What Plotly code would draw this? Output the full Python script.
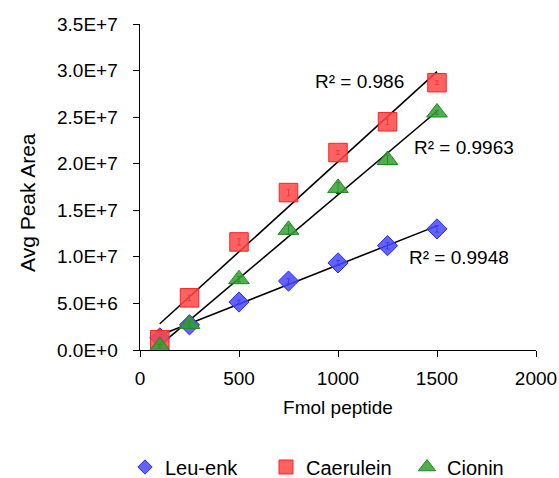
import numpy as np
import plotly.graph_objects as go

# Amount of peptide loaded (fmol)
fmol = [100, 250, 500, 750, 1000, 1250, 1500]

# Average peak areas per peptide
leu_enk = [1.3e6, 2.7e6, 5.15e6, 7.4e6, 9.35e6, 11.2e6, 13.0e6]
caerulein = [1.1e6, 5.6e6, 11.6e6, 16.9e6, 21.2e6, 24.5e6, 28.7e6]
cionin = [0.4e6, 2.8e6, 7.6e6, 12.9e6, 17.4e6, 20.4e6, 25.5e6]

# Replicate spread (standard deviation)
leu_enk_sd = [1.5e5, 2.0e5, 2.0e5, 2.5e5, 2.5e5, 3.5e5, 3.5e5]
caerulein_sd = [2.0e5, 3.0e5, 3.5e5, 3.5e5, 2.0e5, 3.0e5, 2.0e5]
cionin_sd = [2.0e5, 3.0e5, 3.0e5, 5.0e5, 6.0e5, 5.0e5, 2.0e5]

# Coefficients of determination for each linear trend
r2_values = {"Leu-enk": "0.9948", "Caerulein": "0.986", "Cionin": "0.9963"}

y_tick_vals = [0, 5e6, 10e6, 15e6, 20e6, 25e6, 30e6, 35e6]
y_tick_text = ["0.0E+0", "5.0E+6", "1.0E+7", "1.5E+7", "2.0E+7", "2.5E+7", "3.0E+7", "3.5E+7"]
x_tick_vals = [0, 500, 1000, 1500, 2000]

FONT = "Liberation Sans, Arial, sans-serif"

series = [
    # name, values, sd, symbol, fill, edge, error colour, size, legend size
    ("Leu-enk", leu_enk, leu_enk_sd, "diamond", "rgba(70,70,255,0.85)", "#2a2aff", "#00006a", 15.5, 11),
    ("Caerulein", caerulein, caerulein_sd, "square", "rgba(255,70,70,0.85)", "#ff2020", "#7a0000", 18.5, 14),
    ("Cionin", cionin, cionin_sd, "triangle-up", "rgba(50,160,50,0.85)", "#1e8a1e", "#003a00", 18, 15),
]

fig = go.Figure()

# Linear trendlines fitted to each series, spanning the measured range
x_arr = np.array(fmol, dtype=float)
for name, vals, *_ in series:
    slope, intercept = np.polyfit(x_arr, np.array(vals), 1)
    xs = np.array([x_arr.min(), x_arr.max()])
    fig.add_trace(go.Scatter(
        x=xs, y=slope * xs + intercept, mode="lines",
        line=dict(color="black", width=1.6), showlegend=False, hoverinfo="skip",
    ))

for name, vals, sd, sym, fill, edge, errc, size, lsize in series:
    fig.add_trace(go.Scatter(
        x=fmol, y=vals, mode="markers", name=name, showlegend=False,
        marker=dict(symbol=sym, size=size, color=fill, line=dict(color=edge, width=1)),
        error_y=dict(type="data", array=sd, visible=True, color=errc, thickness=1, width=2),
    ))

# Legend entries with compact symbols
for name, vals, sd, sym, fill, edge, errc, size, lsize in series:
    fig.add_trace(go.Scatter(
        x=[None], y=[None], mode="markers", name=name,
        marker=dict(symbol=sym, size=lsize, color=fill, line=dict(color=edge, width=1)),
    ))

# R² labels placed next to their trendlines (data coordinates)
label_pos = {
    "Caerulein": (1111, 2.88e7),
    "Cionin": (1636, 2.17e7),
    "Leu-enk": (1611, 0.99e7),
}
for key, (lx, ly) in label_pos.items():
    fig.add_annotation(
        x=lx, y=ly, xref="x", yref="y", xanchor="center", yanchor="middle",
        text=f"R² = {r2_values[key]}", showarrow=False,
        font=dict(family=FONT, size=19, color="black"),
    )

L, R, T, B = 140, 23, 24, 128
W, H = 559, 478
PW, PH = W - L - R, H - T - B

# Y tick labels, set a little away from the tick marks
for v, t in zip(y_tick_vals, y_tick_text):
    fig.add_annotation(
        x=-20 / PW, y=v, xref="paper", yref="y", xanchor="right", yanchor="middle",
        text=t, showarrow=False, font=dict(family=FONT, size=19, color="black"),
    )

# Vertical axis title
fig.add_annotation(
    x=(28 - L) / PW, y=(H - B - 203) / PH,
    xref="paper", yref="paper", xanchor="center", yanchor="middle",
    text="Avg Peak Area", textangle=-90, showarrow=False,
    font=dict(family=FONT, size=21, color="black"),
)

fig.update_layout(
    width=W, height=H,
    margin=dict(l=L, r=R, t=T, b=B, autoexpand=False),
    paper_bgcolor="white", plot_bgcolor="white",
    font=dict(family=FONT, size=19, color="black"),
    showlegend=True,
    legend=dict(
        orientation="h", xref="paper", yref="paper",
        x=(125 - L) / PW, xanchor="left", y=(H - B - 467) / PH, yanchor="middle",
        font=dict(family=FONT, size=20, color="black"),
        itemwidth=30, tracegroupgap=0, entrywidth=96, entrywidthmode="pixels",
    ),
    xaxis=dict(
        range=[0, 2000], tickvals=x_tick_vals, showgrid=False, zeroline=False,
        showline=True, linecolor="black", linewidth=1.3, automargin=False,
        ticks="outside", ticklen=6, tickcolor="black", ticklabelstandoff=5,
        tickfont=dict(size=19),
        title=dict(text="Fmol peptide", font=dict(size=19), standoff=12),
    ),
    yaxis=dict(
        range=[0, 3.5e7], tickvals=y_tick_vals, showticklabels=False,
        showgrid=False, zeroline=False, automargin=False,
        showline=True, linecolor="black", linewidth=1.3,
        ticks="outside", ticklen=6, tickcolor="black",
    ),
)

fig.write_html("out.html")
